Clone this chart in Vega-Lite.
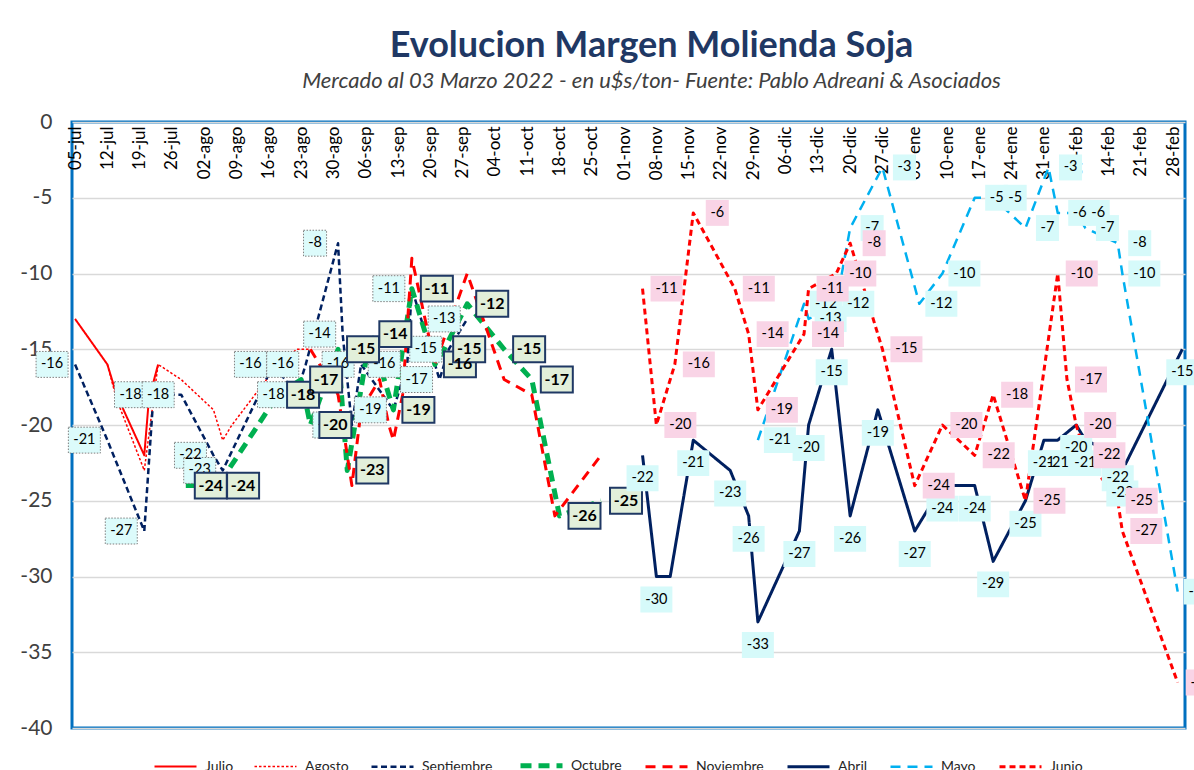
{
  "$schema": "https://vega.github.io/schema/vega-lite/v6.json",
  "width": 1113,
  "height": 606,
  "autosize": {"type": "none"},
  "padding": {"left": 72, "top": 122, "right": 9, "bottom": 42},
  "background": "white",
  "title": {
    "text": "Evolucion Margen Molienda Soja",
    "subtitle": "Mercado al 03 Marzo  2022 - en u$s/ton- Fuente: Pablo Adreani & Asociados",
    "anchor": "middle",
    "dx": 23,
    "offset": 18,
    "font": "Lato",
    "fontSize": 36,
    "fontWeight": "bold",
    "color": "#1F3864",
    "subtitleFont": "Lato",
    "subtitleFontSize": 22,
    "subtitleFontStyle": "italic",
    "subtitleColor": "#404040",
    "subtitlePadding": 6
  },
  "config": {
    "view": {"stroke": "#0070C0", "strokeWidth": 3},
    "font": "Lato",
    "axisX": {"labelOverlap": false, "labelBound": false, "labelFlush": false}
  },
  "data": {
    "values": [
      {"s": "Julio", "d": "2021-07-05", "v": -13},
      {"s": "Julio", "d": "2021-07-12", "v": -16},
      {"s": "Julio", "d": "2021-07-14", "v": -18},
      {"s": "Julio", "d": "2021-07-20", "v": -22},
      {"s": "Julio", "d": "2021-07-21", "v": -18.3},
      {"s": "Julio", "d": "2021-07-23", "v": -16},

      {"s": "Agosto", "d": "2021-07-12", "v": -16},
      {"s": "Agosto", "d": "2021-07-14", "v": -18.3},
      {"s": "Agosto", "d": "2021-07-20", "v": -23},
      {"s": "Agosto", "d": "2021-07-23", "v": -16},
      {"s": "Agosto", "d": "2021-07-28", "v": -17},
      {"s": "Agosto", "d": "2021-08-04", "v": -19},
      {"s": "Agosto", "d": "2021-08-06", "v": -21},
      {"s": "Agosto", "d": "2021-08-08", "v": -20},
      {"s": "Agosto", "d": "2021-08-16", "v": -16.8},
      {"s": "Agosto", "d": "2021-08-22", "v": -15},
      {"s": "Agosto", "d": "2021-08-25", "v": -15},

      {"s": "Septiembre", "d": "2021-07-05", "v": -16},
      {"s": "Septiembre", "d": "2021-07-12", "v": -21},
      {"s": "Septiembre", "d": "2021-07-20", "v": -27},
      {"s": "Septiembre", "d": "2021-07-22", "v": -18},
      {"s": "Septiembre", "d": "2021-07-28", "v": -18},
      {"s": "Septiembre", "d": "2021-08-04", "v": -22},
      {"s": "Septiembre", "d": "2021-08-06", "v": -23},
      {"s": "Septiembre", "d": "2021-08-17", "v": -16},
      {"s": "Septiembre", "d": "2021-08-22", "v": -18},
      {"s": "Septiembre", "d": "2021-08-24", "v": -16},
      {"s": "Septiembre", "d": "2021-08-31", "v": -8},
      {"s": "Septiembre", "d": "2021-09-01", "v": -14},
      {"s": "Septiembre", "d": "2021-09-03", "v": -20},
      {"s": "Septiembre", "d": "2021-09-05", "v": -16},
      {"s": "Septiembre", "d": "2021-09-12", "v": -19},
      {"s": "Septiembre", "d": "2021-09-15", "v": -16},
      {"s": "Septiembre", "d": "2021-09-16", "v": -11},
      {"s": "Septiembre", "d": "2021-09-22", "v": -17},
      {"s": "Septiembre", "d": "2021-09-24", "v": -15},
      {"s": "Septiembre", "d": "2021-09-28", "v": -13},

      {"s": "Octubre", "d": "2021-07-29", "v": -24},
      {"s": "Octubre", "d": "2021-08-05", "v": -24},
      {"s": "Octubre", "d": "2021-08-18", "v": -18},
      {"s": "Octubre", "d": "2021-08-23", "v": -17},
      {"s": "Octubre", "d": "2021-08-25", "v": -20},
      {"s": "Octubre", "d": "2021-08-31", "v": -15},
      {"s": "Octubre", "d": "2021-09-02", "v": -23},
      {"s": "Octubre", "d": "2021-09-07", "v": -14},
      {"s": "Octubre", "d": "2021-09-12", "v": -19},
      {"s": "Octubre", "d": "2021-09-16", "v": -11},
      {"s": "Octubre", "d": "2021-09-21", "v": -16},
      {"s": "Octubre", "d": "2021-09-23", "v": -15},
      {"s": "Octubre", "d": "2021-09-28", "v": -12},
      {"s": "Octubre", "d": "2021-10-06", "v": -15},
      {"s": "Octubre", "d": "2021-10-12", "v": -17},
      {"s": "Octubre", "d": "2021-10-18", "v": -26},
      {"s": "Octubre", "d": "2021-10-27", "v": -25},

      {"s": "Noviembre", "d": "2021-08-25", "v": -15},
      {"s": "Noviembre", "d": "2021-08-31", "v": -18},
      {"s": "Noviembre", "d": "2021-09-03", "v": -24},
      {"s": "Noviembre", "d": "2021-09-05", "v": -19},
      {"s": "Noviembre", "d": "2021-09-09", "v": -17},
      {"s": "Noviembre", "d": "2021-09-11", "v": -20},
      {"s": "Noviembre", "d": "2021-09-12", "v": -21},
      {"s": "Noviembre", "d": "2021-09-14", "v": -18},
      {"s": "Noviembre", "d": "2021-09-16", "v": -9},
      {"s": "Noviembre", "d": "2021-09-21", "v": -16},
      {"s": "Noviembre", "d": "2021-09-28", "v": -10},
      {"s": "Noviembre", "d": "2021-10-06", "v": -17},
      {"s": "Noviembre", "d": "2021-10-12", "v": -18},
      {"s": "Noviembre", "d": "2021-10-17", "v": -26},
      {"s": "Noviembre", "d": "2021-10-27", "v": -22},

      {"s": "Abril", "d": "2021-11-05", "v": -22},
      {"s": "Abril", "d": "2021-11-08", "v": -30},
      {"s": "Abril", "d": "2021-11-11", "v": -30, "lab": false},
      {"s": "Abril", "d": "2021-11-16", "v": -21},
      {"s": "Abril", "d": "2021-11-24", "v": -23},
      {"s": "Abril", "d": "2021-11-28", "v": -26},
      {"s": "Abril", "d": "2021-11-30", "v": -33},
      {"s": "Abril", "d": "2021-12-09", "v": -27},
      {"s": "Abril", "d": "2021-12-11", "v": -20},
      {"s": "Abril", "d": "2021-12-16", "v": -15},
      {"s": "Abril", "d": "2021-12-20", "v": -26},
      {"s": "Abril", "d": "2021-12-26", "v": -19},
      {"s": "Abril", "d": "2022-01-03", "v": -27},
      {"s": "Abril", "d": "2022-01-09", "v": -24},
      {"s": "Abril", "d": "2022-01-16", "v": -24},
      {"s": "Abril", "d": "2022-01-20", "v": -29},
      {"s": "Abril", "d": "2022-01-27", "v": -25},
      {"s": "Abril", "d": "2022-01-31", "v": -21},
      {"s": "Abril", "d": "2022-02-03", "v": -21},
      {"s": "Abril", "d": "2022-02-07", "v": -20},
      {"s": "Abril", "d": "2022-02-09", "v": -21},
      {"s": "Abril", "d": "2022-02-16", "v": -22},
      {"s": "Abril", "d": "2022-02-17", "v": -23},
      {"s": "Abril", "d": "2022-03-02", "v": -15},

      {"s": "Mayo", "d": "2021-11-30", "v": -21},
      {"s": "Mayo", "d": "2021-12-10", "v": -12},
      {"s": "Mayo", "d": "2021-12-11", "v": -13},
      {"s": "Mayo", "d": "2021-12-17", "v": -12},
      {"s": "Mayo", "d": "2021-12-20", "v": -7},
      {"s": "Mayo", "d": "2021-12-27", "v": -3},
      {"s": "Mayo", "d": "2022-01-04", "v": -12},
      {"s": "Mayo", "d": "2022-01-09", "v": -10},
      {"s": "Mayo", "d": "2022-01-16", "v": -5},
      {"s": "Mayo", "d": "2022-01-20", "v": -5},
      {"s": "Mayo", "d": "2022-01-27", "v": -7},
      {"s": "Mayo", "d": "2022-02-01", "v": -3},
      {"s": "Mayo", "d": "2022-02-03", "v": -6},
      {"s": "Mayo", "d": "2022-02-07", "v": -6},
      {"s": "Mayo", "d": "2022-02-09", "v": -7},
      {"s": "Mayo", "d": "2022-02-16", "v": -8},
      {"s": "Mayo", "d": "2022-02-17", "v": -10},
      {"s": "Mayo", "d": "2022-03-01", "v": -31},

      {"s": "Junio", "d": "2021-11-05", "v": -11},
      {"s": "Junio", "d": "2021-11-08", "v": -20},
      {"s": "Junio", "d": "2021-11-12", "v": -16},
      {"s": "Junio", "d": "2021-11-16", "v": -6},
      {"s": "Junio", "d": "2021-11-25", "v": -11},
      {"s": "Junio", "d": "2021-11-28", "v": -14},
      {"s": "Junio", "d": "2021-11-30", "v": -19},
      {"s": "Junio", "d": "2021-12-10", "v": -14},
      {"s": "Junio", "d": "2021-12-11", "v": -11},
      {"s": "Junio", "d": "2021-12-17", "v": -10},
      {"s": "Junio", "d": "2021-12-20", "v": -8},
      {"s": "Junio", "d": "2021-12-27", "v": -15},
      {"s": "Junio", "d": "2022-01-03", "v": -24},
      {"s": "Junio", "d": "2022-01-09", "v": -20},
      {"s": "Junio", "d": "2022-01-16", "v": -22},
      {"s": "Junio", "d": "2022-01-20", "v": -18},
      {"s": "Junio", "d": "2022-01-27", "v": -25},
      {"s": "Junio", "d": "2022-02-03", "v": -10},
      {"s": "Junio", "d": "2022-02-05", "v": -17},
      {"s": "Junio", "d": "2022-02-07", "v": -20},
      {"s": "Junio", "d": "2022-02-09", "v": -22},
      {"s": "Junio", "d": "2022-02-16", "v": -25},
      {"s": "Junio", "d": "2022-02-17", "v": -27},
      {"s": "Junio", "d": "2022-03-01", "v": -37}
    ]
  },
  "layer": [
    {
      "mark": {"type": "line", "strokeCap": "butt", "strokeJoin": "round"},
      "encoding": {
        "x": {
          "field": "d",
          "type": "temporal",
          "scale": {
            "type": "utc",
            "domain": [
              {"year": 2021, "month": 7, "date": 4, "hours": 8, "utc": true},
              {"year": 2022, "month": 3, "date": 2, "hours": 14, "utc": true}
            ]
          },
          "axis": {
            "orient": "top",
            "title": null,
            "tickCount": 60,
            "values": [
              {"year": 2021, "month": 7, "date": 5, "utc": true},
              {"year": 2021, "month": 7, "date": 12, "utc": true},
              {"year": 2021, "month": 7, "date": 19, "utc": true},
              {"year": 2021, "month": 7, "date": 26, "utc": true},
              {"year": 2021, "month": 8, "date": 2, "utc": true},
              {"year": 2021, "month": 8, "date": 9, "utc": true},
              {"year": 2021, "month": 8, "date": 16, "utc": true},
              {"year": 2021, "month": 8, "date": 23, "utc": true},
              {"year": 2021, "month": 8, "date": 30, "utc": true},
              {"year": 2021, "month": 9, "date": 6, "utc": true},
              {"year": 2021, "month": 9, "date": 13, "utc": true},
              {"year": 2021, "month": 9, "date": 20, "utc": true},
              {"year": 2021, "month": 9, "date": 27, "utc": true},
              {"year": 2021, "month": 10, "date": 4, "utc": true},
              {"year": 2021, "month": 10, "date": 11, "utc": true},
              {"year": 2021, "month": 10, "date": 18, "utc": true},
              {"year": 2021, "month": 10, "date": 25, "utc": true},
              {"year": 2021, "month": 11, "date": 1, "utc": true},
              {"year": 2021, "month": 11, "date": 8, "utc": true},
              {"year": 2021, "month": 11, "date": 15, "utc": true},
              {"year": 2021, "month": 11, "date": 22, "utc": true},
              {"year": 2021, "month": 11, "date": 29, "utc": true},
              {"year": 2021, "month": 12, "date": 6, "utc": true},
              {"year": 2021, "month": 12, "date": 13, "utc": true},
              {"year": 2021, "month": 12, "date": 20, "utc": true},
              {"year": 2021, "month": 12, "date": 27, "utc": true},
              {"year": 2022, "month": 1, "date": 3, "utc": true},
              {"year": 2022, "month": 1, "date": 10, "utc": true},
              {"year": 2022, "month": 1, "date": 17, "utc": true},
              {"year": 2022, "month": 1, "date": 24, "utc": true},
              {"year": 2022, "month": 1, "date": 31, "utc": true},
              {"year": 2022, "month": 2, "date": 7, "utc": true},
              {"year": 2022, "month": 2, "date": 14, "utc": true},
              {"year": 2022, "month": 2, "date": 21, "utc": true},
              {"year": 2022, "month": 2, "date": 28, "utc": true}
            ],
            "labelExpr": "utcFormat(datum.value, '%d') + '-' + ['ene','feb','mar','abr','may','jun','jul','ago','sep','oct','nov','dic'][utcmonth(datum.value)]",
            "labelAngle": -90,
            "labelAlign": "right",
            "labelBaseline": "middle",
            "labelPadding": -4,
            "labelFont": "Lato",
            "labelFontSize": 17,
            "labelColor": "#000000",
            "labelOverlap": false,
            "labelBound": false,
            "labelFlush": false,
            "ticks": false,
            "domain": false,
            "grid": false
          }
        },
        "y": {
          "field": "v",
          "type": "quantitative",
          "scale": {"domain": [-40, 0], "nice": false, "zero": false},
          "axis": {
            "title": null,
            "values": [0, -5, -10, -15, -20, -25, -30, -35, -40],
            "labelExpr": "'' + datum.value",
            "labelFont": "Lato",
            "labelFontSize": 21,
            "labelColor": "#404040",
            "labelPadding": 20,
            "ticks": false,
            "domain": false,
            "grid": true,
            "gridColor": "#D9D9D9",
            "gridWidth": 1.5
          }
        },
        "color": {
          "field": "s",
          "type": "nominal",
          "scale": {
            "domain": ["Julio", "Agosto", "Septiembre", "Octubre", "Noviembre", "Abril", "Mayo", "Junio"],
            "range": ["#FF0000", "#FF0000", "#002060", "#00B050", "#FF0000", "#002060", "#00B0F0", "#FF0000"]
          },
          "legend": {
            "orient": "none",
            "legendX": 80,
            "legendY": 620,
            "direction": "horizontal",
            "columns": 8,
            "title": null,
            "symbolType": "stroke",
            "symbolSize": 1764,
            "labelFont": "Lato",
            "labelFontSize": 14,
            "labelColor": "#262626",
            "labelOffset": 6,
            "columnPadding": 17
          }
        },
        "strokeDash": {
          "field": "s",
          "type": "nominal",
          "scale": {
            "domain": ["Julio", "Agosto", "Septiembre", "Octubre", "Noviembre", "Abril", "Mayo", "Junio"],
            "range": [[1, 0], [2.5, 2], [6, 3.5], [11, 7], [10, 7], [1, 0], [10, 7], [6, 4]]
          }
        },
        "strokeWidth": {
          "field": "s",
          "type": "ordinal",
          "scale": {
            "type": "ordinal",
            "domain": ["Julio", "Agosto", "Septiembre", "Octubre", "Noviembre", "Abril", "Mayo", "Junio"],
            "range": [2, 1.5, 2.5, 5, 3, 3, 2.5, 3]
          }
        }
      }
    },
    {
      "transform": [{"filter": "datum.s == 'Septiembre'"}],
      "mark": {"type": "point", "filled": true, "opacity": 1, "fill": "#DCFBFB", "stroke": "#7F7F7F", "strokeWidth": 1, "strokeDash": [1.5, 1.5], "size": 1024},
      "encoding": {
        "x": {"field": "d", "type": "temporal"},
        "y": {"field": "v", "type": "quantitative"},
        "shape": {"condition": {"test": "datum.v > -9.5", "value": "M-2.1575,-0.81H-0.7175V0.81H-2.1575Z"}, "value": "M-2.4375,-0.81H-0.4375V0.81H-2.4375Z"}
      }
    },
    {
      "transform": [{"filter": "datum.s == 'Septiembre'"}],
      "mark": {"type": "text", "dx": -23, "font": "Lato", "fontSize": 14.5, "color": "#000000", "baseline": "middle", "align": "center"},
      "encoding": {
        "x": {"field": "d", "type": "temporal"},
        "y": {"field": "v", "type": "quantitative"},
        "text": {"field": "v", "type": "nominal"}
      }
    },
    {
      "transform": [{"filter": "datum.s == 'Octubre'"}],
      "mark": {"type": "point", "filled": true, "opacity": 1, "fill": "#E2EFDA", "stroke": "#1F3864", "strokeWidth": 2, "size": 1024, "shape": "M0.5625,-0.81H2.5625V0.81H0.5625Z"},
      "encoding": {
        "x": {"field": "d", "type": "temporal"},
        "y": {"field": "v", "type": "quantitative"}
      }
    },
    {
      "transform": [{"filter": "datum.s == 'Octubre'"}],
      "mark": {"type": "text", "dx": 25, "font": "Lato", "fontSize": 16, "fontWeight": "bold", "color": "#000000", "baseline": "middle", "align": "center"},
      "encoding": {
        "x": {"field": "d", "type": "temporal"},
        "y": {"field": "v", "type": "quantitative"},
        "text": {"field": "v", "type": "nominal"}
      }
    },
    {
      "transform": [{"filter": "datum.s == 'Abril' && datum.lab !== false"}],
      "mark": {"type": "point", "filled": true, "opacity": 1, "fill": "#D6FAFA", "strokeWidth": 0, "size": 1024, "shape": "M-1,0.6275H1V2.2475H-1Z"},
      "encoding": {
        "x": {"field": "d", "type": "temporal"},
        "y": {"field": "v", "type": "quantitative"}
      }
    },
    {
      "transform": [{"filter": "datum.s == 'Abril' && datum.lab !== false"}],
      "mark": {"type": "text", "dy": 23, "font": "Lato", "fontSize": 14.5, "color": "#000000", "baseline": "middle", "align": "center"},
      "encoding": {
        "x": {"field": "d", "type": "temporal"},
        "y": {"field": "v", "type": "quantitative"},
        "text": {"field": "v", "type": "nominal"}
      }
    },
    {
      "transform": [{"filter": "datum.s == 'Mayo'"}],
      "mark": {"type": "point", "filled": true, "opacity": 1, "fill": "#D6FAFA", "strokeWidth": 0, "size": 1024},
      "encoding": {
        "x": {"field": "d", "type": "temporal"},
        "y": {"field": "v", "type": "quantitative"},
        "shape": {"condition": {"test": "datum.v > -9.5", "value": "M0.655,-0.81H2.095V0.81H0.655Z"}, "value": "M0.375,-0.81H2.375V0.81H0.375Z"}
      }
    },
    {
      "transform": [{"filter": "datum.s == 'Mayo'"}],
      "mark": {"type": "text", "dx": 22, "font": "Lato", "fontSize": 14.5, "color": "#000000", "baseline": "middle", "align": "center"},
      "encoding": {
        "x": {"field": "d", "type": "temporal"},
        "y": {"field": "v", "type": "quantitative"},
        "text": {"field": "v", "type": "nominal"}
      }
    },
    {
      "transform": [{"filter": "datum.s == 'Junio'"}],
      "mark": {"type": "point", "filled": true, "opacity": 1, "fill": "#F9D4E6", "strokeWidth": 0, "size": 1024},
      "encoding": {
        "x": {"field": "d", "type": "temporal"},
        "y": {"field": "v", "type": "quantitative"},
        "shape": {"condition": {"test": "datum.v > -9.5", "value": "M0.78,-0.81H2.22V0.81H0.78Z"}, "value": "M0.5,-0.81H2.5V0.81H0.5Z"}
      }
    },
    {
      "transform": [{"filter": "datum.s == 'Junio'"}],
      "mark": {"type": "text", "dx": 24, "font": "Lato", "fontSize": 14.5, "color": "#000000", "baseline": "middle", "align": "center"},
      "encoding": {
        "x": {"field": "d", "type": "temporal"},
        "y": {"field": "v", "type": "quantitative"},
        "text": {"field": "v", "type": "nominal"}
      }
    }
  ]
}
